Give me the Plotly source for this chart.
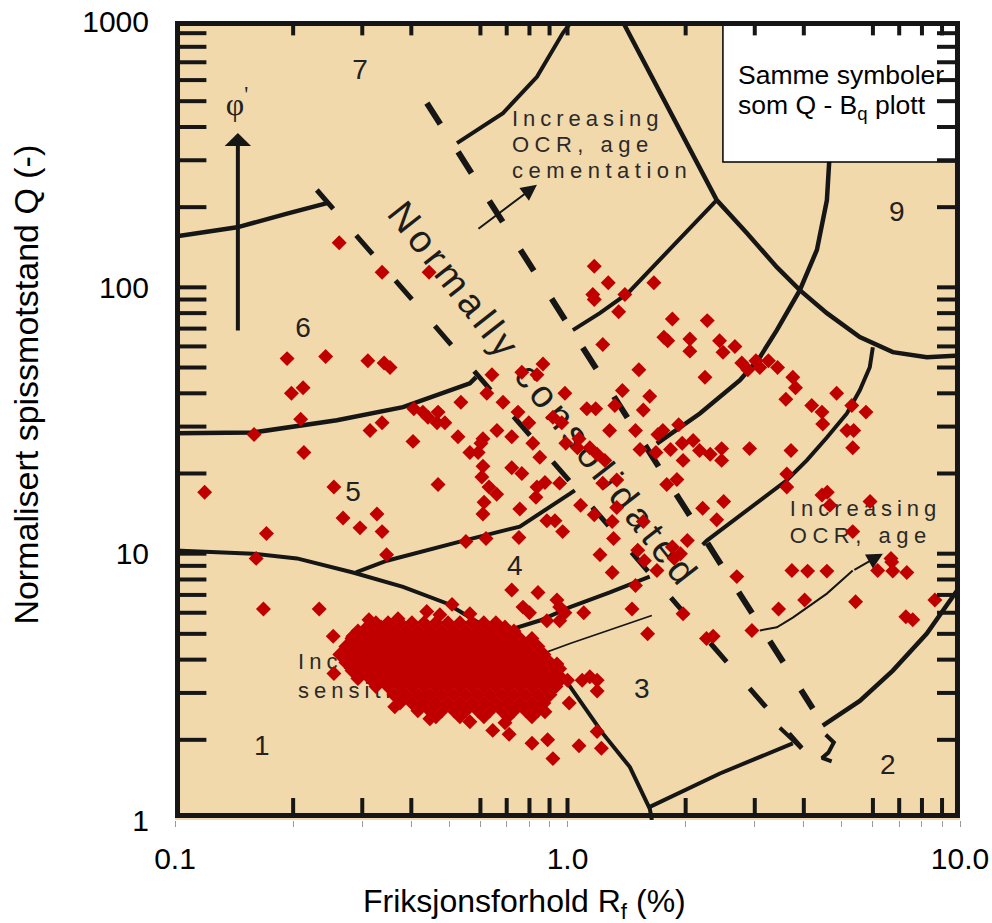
import plotly.graph_objects as go
import math

INK = "#161616"
RED = "#C00000"
BG = "#F2D9AB"
FONT = "Liberation Sans"

# ---------------- axes ----------------
x_major_vals = [0.1, 1, 10]
x_major_text = ["0.1", "1.0", "10.0"]
x_minor_vals = [0.2, 0.3, 0.4, 0.5, 0.6, 0.7, 0.8, 0.9, 2, 3, 4, 5, 6, 7, 8, 9]
y_tick_vals = [1, 10, 100, 1000]
y_tick_text = ["1", "10", "100", "1000"]
frame_x_ticks = [0.2, 0.3, 0.4, 0.6, 0.7, 0.8, 0.9, 1, 2, 3, 4, 6, 7, 8, 9]
frame_y_ticks = [2, 3, 4, 5, 6, 7, 8, 9, 10, 20, 30, 40, 50, 60, 70, 80, 90, 100,
                 200, 300, 400, 500, 600, 700, 800, 900]

# ---------------- chart boundaries (Rf %, Q) ----------------
z67_rf = [0.1, 0.144, 0.193, 0.244]
z67_q = [155, 168, 189, 207]
nc_inner_rf = [0.2298, 3.95]
nc_inner_q = [232, 1.86]
nc_outer_rf = [0.4383, 4.218]
nc_outer_q = [492, 2.62]
curl_rf = [4.55, 4.77, 4.62, 4.45, 4.71]
curl_q = [2.09, 1.955, 1.79, 1.71, 1.66]
z78_rf = [0.523, 0.685, 0.836, 0.973, 1.027]
z78_q = [348, 451, 617, 901, 1000]
z89_rf = [1.38, 1.592, 1.855, 2.174, 2.40, 2.863, 3.415, 3.908, 4.58, 5.555, 6.743, 8.23, 10]
z89_q = [1000, 672, 436, 283, 212.6, 160, 119, 97.6, 80, 65.1, 57.1, 54.6, 55.5]
z9l_rf = [4.88, 4.74, 4.65, 4.58, 4.32, 3.908, 3.415, 3.09, 2.75, 2.174, 1.689]
z9l_q = [1000, 505, 293, 212.6, 138.3, 97.6, 69.1, 54.6, 44.8, 33.6, 25.9]
z8l_rf = [2.40, 1.991, 1.64, 1.425, 1.209, 1.032]
z8l_q = [212.6, 160, 118.8, 95.1, 80.0, 69.1]
z9b_rf = [5.997, 5.89, 5.555, 5.15, 4.58, 4.07, 3.62, 3.09, 2.638, 2.265, 2.21]
z9b_q = [59.6, 50.1, 41.06, 33.6, 27.3, 22.4, 18.86, 15.84, 13.3, 11.2, 10.8]
z45_rf = [0.289, 0.3466, 0.532, 0.756, 1.015, 1.044]
z45_q = [8.5, 9.41, 11.1, 12.64, 16.8, 17.3]
z56_rf = [0.1, 0.158, 0.2585, 0.381, 0.564, 0.585]
z56_q = [28.3, 28.5, 31.7, 35.5, 43.6, 46]
z1_rf = [0.1, 0.158, 0.2045, 0.284, 0.381, 0.493, 0.598, 0.756, 0.918, 1.003, 1.231, 1.442, 1.621, 1.64]
z1_q = [10.27, 10.0, 9.6, 8.5, 7.5, 6.5, 5.47, 4.33, 3.55, 3.25, 2.11, 1.58, 1.10, 1.0]
z23_rf = [1.621, 2.445, 3.75]
z23_q = [1.12, 1.495, 1.94]
z23t_rf = [3.475, 3.95]
z23t_q = [2.22, 1.86]
z2_rf = [4.47, 5.555, 6.743, 8.23, 9.83, 10]
z2_q = [2.26, 2.80, 3.64, 5.01, 7.27, 7.6]
z34_rf = [0.653, 0.85, 1.015, 1.282, 1.62]
z34_q = [4.97, 5.61, 6.30, 7.15, 8.2]
sens_rf = [0.6846, 1.015, 1.64]
sens_q = [3.72, 4.60, 5.86]
ocr2_rf = [3.09, 3.415, 3.75, 4.58, 5.33]
ocr2_q = [5.15, 5.29, 5.75, 7.08, 8.65]

# ---------------- zone labels ----------------
zone_txt = ["7", "6", "5", "4", "3", "1", "2", "9"]
zone_rf = [0.296, 0.2118, 0.284, 0.7345, 1.547, 0.1665, 6.55, 6.9]
zone_q = [643, 69.1, 16.7, 8.85, 3.06, 1.86, 1.58, 189]

note_txt = ["Increasing", "OCR, age", "cementation", "Increasing", "OCR, age", "Increasing", "sensitivity"]
note_rf = [0.7217, 0.7217, 0.7217, 3.685, 3.685, 0.2059, 0.2059]
note_q = [424.7, 339, 271, 14.55, 11.5, 3.86, 3.0]

# ---------------- measured points (Rf %, Q) ----------------
pts_rf = [0.193, 0.242, 0.31, 0.341, 0.353, 0.198, 0.212, 0.209, 0.159, 0.213,
          0.314, 0.337, 0.406, 0.428, 0.441, 0.468, 0.465, 0.487, 0.404, 0.535,
          0.526, 0.642, 0.623, 0.685, 0.748, 0.797, 0.661, 0.721, 0.609, 0.602,
          0.564, 0.592, 0.816, 0.85, 0.765, 0.836, 0.866, 0.985, 0.918, 0.967,
          0.99, 0.609, 0.605, 0.631, 0.66, 0.721, 0.765, 0.836, 0.876, 0.831,
          0.955, 0.613, 0.609, 0.756, 0.886, 0.929, 0.972, 0.468, 0.254, 0.119,
          0.268, 0.296, 0.327, 0.337, 0.171, 0.346, 0.551, 0.62, 0.752, 0.161,
          1.27, 1.66, 1.16, 1.17, 1.40, 1.35, 1.85, 2.27, 1.76, 1.80,
          2.05, 2.05, 2.44, 2.49, 2.67, 1.23, 2.78, 2.88, 3.02, 3.09,
          3.25, 3.43, 3.75, 3.81, 1.52, 2.24, 1.38, 1.62, 1.56, 1.32,
          1.12, 1.18, 1.28, 1.49, 1.70, 1.75, 1.92, 3.60, 4.19, 4.45,
          4.47, 4.85, 5.30, 5.76, 5.15, 5.36, 5.33, 1.07, 1.06,
          1.14, 1.19, 1.245, 1.53, 1.68, 1.83, 1.96, 2.09, 2.17, 2.31,
          2.47, 2.47, 1.97, 2.91, 3.71, 1.23, 1.335, 1.79, 1.90,
          3.62, 3.62, 1.08, 1.17, 1.335, 1.30, 2.21, 2.50, 2.40, 1.56,
          1.31, 1.21, 1.51, 1.85, 2.02, 1.94, 4.45, 4.59, 4.66,
          5.9, 5.33, 6.67,
          1.57, 1.30, 1.69, 1.87, 2.70, 3.73,
          4.09, 4.58, 4.02, 3.45, 5.42, 6.17, 6.7, 6.74, 7.32, 8.63,
          7.28, 7.58, 1.49, 1.46, 1.10, 0.955, 0.985, 1.97, 1.60, 2.26,
          2.35, 2.95, 0.955, 1.0, 1.09, 1.14, 1.19, 1.19, 1.01, 1.19,
          1.07, 1.22,
          0.168, 0.233, 0.721, 0.841, 0.508, 0.438, 0.37, 0.312, 0.335, 0.284,
          0.253, 0.254, 0.645, 0.71, 0.812, 0.89, 0.918, 0.77, 0.80, 0.94,
          0.955, 0.886, 0.836, 0.886, 0.94,
          0.262, 0.337, 0.444, 1.17,
          0.305, 0.473, 0.564, 0.693, 0.363, 0.446, 0.693, 0.876, 0.564, 0.276]
pts_q = [54, 55, 53, 52, 50, 40, 42, 32, 28, 24,
         29, 31, 35, 34, 32.5, 34, 31, 31, 26.4, 37,
         27.5, 47, 40, 37, 34, 31, 29, 27.5, 27, 26,
         24, 24, 26, 23, 48, 47, 51.5, 40, 32.5, 31,
         26, 21.3, 19.4, 17.8, 16.7, 21, 20, 17.8, 18.5, 16.3,
         18.4, 15.6, 14.1, 14.7, 13.3, 13.3, 12.1, 18.2, 17.8, 17,
         13.6, 12.5, 14.1, 12.1, 11.9, 9.9, 11.1, 11.4, 11.5, 9.6,
         104, 104, 94, 90, 94, 81, 76, 75, 65, 63,
         64, 57.6, 63, 57, 60, 61, 52, 49, 53, 50,
         53, 50, 46, 42, 49, 46, 41, 39, 34.6, 36,
         35, 35, 29, 29, 28, 29, 30.5, 38, 36, 34,
         30.7, 40, 36, 34, 29, 29, 25, 27, 25,
         25, 23.6, 22.4, 24.6, 24, 24.6, 26, 26.6, 24.4, 23.6,
         24.8, 22.4, 22.4, 24.8, 24.4, 18.4, 18.9, 18.2, 19,
         19.9, 17.8, 15.2, 14, 14.9, 13.2, 14.8, 15.7, 13.4, 13.2,
         11.4, 9.9, 10.3, 10.6, 11.2, 10, 16.6, 17, 15.2,
         15.7, 12.1, 9.6,
         9.4, 8.5, 8.65, 9.6, 8.2, 8.65,
         8.6, 8.6, 6.7, 6.2, 6.6, 8.65, 9.3, 8.6, 8.5, 6.7,
         5.8, 5.65, 7.6, 6.2, 6.0, 6.3, 6.0, 5.95, 5.0, 4.8,
         4.9, 5.15, 3.7, 3.35, 3.35, 3.45, 3.35, 3.05, 2.75, 2.15,
         1.9, 1.86,
         6.2, 6.2, 7.3, 7.15, 6.45, 6.06, 5.7, 5.65, 5.3, 4.9,
         4.9, 3.55, 2.17, 2.1, 1.94, 2.0, 1.7, 6.3, 6.0, 6.7,
         5.6, 5.6, 4.3, 3.8, 3.85,
         147, 114, 114, 120,
         5.2, 5.9, 5.95, 5.3, 2.66, 2.4, 2.32, 2.55, 2.34, 4.45]

# dense cluster, read row by row (one Q per row, Rf of each point in it)
cluster_q = [5.5, 5.12, 4.8, 4.48, 4.18, 3.9, 3.64, 3.4, 3.17, 2.95, 2.75, 2.57, 2.44]
cluster_rf = [
    [0.325, 0.349, 0.374, 0.4015, 0.431, 0.462, 0.496, 0.532, 0.571, 0.612, 0.657],
    [0.2925, 0.3138, 0.3367, 0.3612, 0.3876, 0.4158, 0.4461, 0.4787, 0.5136, 0.551, 0.5912, 0.6343, 0.6806, 0.7302],
    [0.2824, 0.3029, 0.325, 0.3488, 0.3742, 0.4015, 0.4307, 0.4621, 0.4958, 0.532, 0.5708, 0.6124, 0.657, 0.705, 0.7564, 0.8116],
    [0.2726, 0.2925, 0.3138, 0.3367, 0.3612, 0.3876, 0.4158, 0.4461, 0.4787, 0.5136, 0.551, 0.5912, 0.6343, 0.6806, 0.7302, 0.7834, 0.8406],
    [0.263, 0.2824, 0.3029, 0.325, 0.3488, 0.3742, 0.4015, 0.4307, 0.4621, 0.4958, 0.532, 0.5708, 0.6124, 0.657, 0.705, 0.7564, 0.8116, 0.8707],
    [0.2726, 0.2925, 0.3138, 0.3367, 0.3612, 0.3876, 0.4158, 0.4461, 0.4787, 0.5136, 0.551, 0.5912, 0.6343, 0.6806, 0.7302, 0.7834, 0.8406, 0.9019],
    [0.2824, 0.3029, 0.325, 0.3488, 0.3742, 0.4015, 0.4307, 0.4621, 0.4958, 0.532, 0.5708, 0.6124, 0.657, 0.705, 0.7564, 0.8116, 0.8707, 0.9342],
    [0.2925, 0.3138, 0.3367, 0.3612, 0.3876, 0.4158, 0.4461, 0.4787, 0.5136, 0.551, 0.5912, 0.6343, 0.6806, 0.7302, 0.7834, 0.8406, 0.9019, 0.9677],
    [0.325, 0.3488, 0.3742, 0.4015, 0.4307, 0.4621, 0.4958, 0.532, 0.5708, 0.6124, 0.657, 0.705, 0.7564, 0.8116, 0.8707, 0.9342],
    [0.3612, 0.3876, 0.4158, 0.4461, 0.4787, 0.5136, 0.551, 0.5912, 0.6343, 0.6806, 0.7302, 0.7834, 0.8406, 0.9019],
    [0.3742, 0.4015, 0.4307, 0.4621, 0.4958, 0.532, 0.5708, 0.6124, 0.657, 0.705, 0.7564, 0.8116, 0.8707],
    [0.4158, 0.4461, 0.4787, 0.5136, 0.551, 0.5912, 0.6343, 0.6806, 0.7302, 0.7834, 0.8406],
    [0.4621, 0.532, 0.6124, 0.705, 0.8116],
]

all_rf = list(pts_rf)
all_q = list(pts_q)
for qv, row in zip(cluster_q, cluster_rf):
    all_rf.extend(row)
    all_q.extend([qv] * len(row))

fig = go.Figure()

curves = [
    (z67_rf, z67_q, 4.5, "solid"),
    (z78_rf, z78_q, 4, "solid"),
    (z89_rf, z89_q, 4.5, "solid"),
    (z9l_rf, z9l_q, 4.5, "solid"),
    (z8l_rf, z8l_q, 4, "solid"),
    (z9b_rf, z9b_q, 4, "solid"),
    (z45_rf, z45_q, 4, "solid"),
    (z56_rf, z56_q, 4.5, "solid"),
    (z1_rf, z1_q, 4, "solid"),
    (z23_rf, z23_q, 4, "solid"),
    (z23t_rf, z23t_q, 4, "solid"),
    (z2_rf, z2_q, 4.5, "solid"),
    (z34_rf, z34_q, 4, "solid"),
    (sens_rf, sens_q, 1.8, "solid"),
    (ocr2_rf, ocr2_q, 2, "solid"),
    (curl_rf, curl_q, 4, "solid"),
    (nc_inner_rf, nc_inner_q, 5, "25px,35px"),
    (nc_outer_rf, nc_outer_q, 6, "25px,33px"),
]
for cx, cy, w, d in curves:
    fig.add_trace(go.Scatter(x=cx, y=cy, mode="lines",
                             line=dict(color=INK, width=w, dash=d),
                             hoverinfo="skip", showlegend=False))

fig.add_trace(go.Scatter(x=zone_rf, y=zone_q, mode="text", text=zone_txt,
                         textposition="middle center",
                         textfont=dict(family=FONT, size=28, color="#222"),
                         hoverinfo="skip", showlegend=False))
fig.add_trace(go.Scatter(x=note_rf, y=note_q, mode="text", text=note_txt,
                         textposition="middle right",
                         textfont=dict(family=FONT, size=22, color="#2a2a2a"),
                         hoverinfo="skip", showlegend=False))
fig.add_trace(go.Scatter(x=[0.1438], y=[475], mode="text", text=["φ<sup>'</sup>"],
                         textposition="middle center",
                         textfont=dict(family="Liberation Serif", size=32, color="#222"),
                         hoverinfo="skip", showlegend=False))

# measured data
fig.add_trace(go.Scatter(x=all_rf, y=all_q, mode="markers",
                         marker=dict(symbol="diamond", size=11.5, color=RED, line=dict(width=0)),
                         showlegend=False))

shapes = []
# rotated "Normally consolidated" label (below data)
shapes.append(dict(type="line", xref="x", yref="y", x0=0.616, y0=80, x1=1.275, y1=20.4,
                   line=dict(width=0, color="rgba(0,0,0,0)"), layer="below",
                   label=dict(text="Normally consolidated", textposition="middle",
                              yanchor="middle", padding=0,
                              font=dict(family=FONT, size=38, color="#1c1c1c"))))
# legend box
shapes.append(dict(type="rect", xref="x domain", yref="y domain",
                   x0=0.698, x1=0.9987, y0=0.8235, y1=0.9987,
                   fillcolor="white", line=dict(color="black", width=1.5), layer="above"))
# frame
shapes.append(dict(type="rect", xref="x domain", yref="y domain",
                   x0=0.0032, x1=0.9968, y0=0.0056, y1=0.9969,
                   line=dict(color=INK, width=5), layer="above"))
for v in frame_y_ticks:
    shapes.append(dict(type="line", xref="x domain", yref="y", x0=0, x1=0.04, y0=v, y1=v,
                       line=dict(color=INK, width=4), layer="above"))
    shapes.append(dict(type="line", xref="x domain", yref="y", x0=0.9707, x1=1, y0=v, y1=v,
                       line=dict(color=INK, width=4), layer="above"))
for v in frame_x_ticks:
    shapes.append(dict(type="line", xref="x", yref="y domain", x0=v, x1=v, y0=0.005, y1=0.0275,
                       line=dict(color=INK, width=4), layer="above"))
    shapes.append(dict(type="line", xref="x", yref="y domain", x0=v, x1=v, y0=0.982, y1=0.997,
                       line=dict(color=INK, width=4), layer="above"))

L = math.log10
annotations = [
    # phi' arrow
    dict(x=L(0.1446), y=L(380), xref="x", yref="y", ax=0, ay=199, text="",
         showarrow=True, arrowhead=1, arrowsize=1.1, arrowwidth=4, arrowcolor=INK),
    # OCR arrows
    dict(x=L(0.836), y=L(242.6), xref="x", yref="y", ax=-60, ay=45, text="",
         showarrow=True, arrowhead=2, arrowsize=1.6, arrowwidth=2, arrowcolor=INK),
    dict(x=L(6.36), y=L(10.0), xref="x", yref="y", ax=-30, ay=17, text="",
         showarrow=True, arrowhead=2, arrowsize=1.6, arrowwidth=2, arrowcolor=INK),
    # box text
    dict(x=0.7146, y=0.9324, xref="x domain", yref="y domain", xanchor="left", yanchor="middle",
         text="Samme symboler", showarrow=False, font=dict(family=FONT, size=26.5, color="black")),
    dict(x=0.7146, y=0.8924, xref="x domain", yref="y domain", xanchor="left", yanchor="middle",
         text="som Q - B<sub>q</sub> plott", showarrow=False, font=dict(family=FONT, size=26.5, color="black")),
    # axis titles
    dict(x=0.4446, y=-0.1045, xref="x domain", yref="y domain", xanchor="center", yanchor="middle",
         text="Friksjonsforhold R<sub>f</sub> (%)", showarrow=False,
         font=dict(family=FONT, size=32, color="black")),
    dict(x=-0.191, y=0.545, xref="x domain", yref="y domain", xanchor="center", yanchor="middle",
         text="Normalisert spissmotstand Q (-)", textangle=-90, showarrow=False,
         font=dict(family=FONT, size=34, color="black")),
]

fig.update_layout(
    width=992, height=923,
    margin=dict(l=175, r=32, t=21, b=103, autoexpand=False),
    paper_bgcolor="white", plot_bgcolor=BG,
    shapes=shapes, annotations=annotations,
    showlegend=False,
    xaxis=dict(type="log", range=[-1, 1], showgrid=False, zeroline=False, showline=False,
               automargin=False, ticklabeloverflow="allow",
               tickmode="array", tickvals=x_major_vals, ticktext=x_major_text,
               ticks="outside", ticklen=6, tickwidth=1, tickcolor="#9a9a9a",
               minor=dict(tickmode="array", tickvals=x_minor_vals, ticks="outside",
                          ticklen=6, tickwidth=1, tickcolor="#9a9a9a", showgrid=False),
               ticklabelstandoff=6,
               tickfont=dict(family=FONT, size=30, color="black")),
    yaxis=dict(type="log", range=[0, 3], showgrid=False, zeroline=False, showline=False,
               automargin=False, ticklabeloverflow="allow",
               tickmode="array", tickvals=y_tick_vals, ticktext=y_tick_text,
               ticks="outside", ticklen=19, tickcolor="rgba(0,0,0,0)",
               tickfont=dict(family=FONT, size=30, color="black")),
)

post = """
document.documentElement.style.margin = '0';
document.body.style.margin = '0';
document.body.style.overflow = 'hidden';
var sp = {'Increasing': 5, 'OCR, age': 5.5, 'cementation': 5.5, 'sensitivity': 5,
          'Normally consolidated': 5};
document.querySelectorAll('svg text').forEach(function(t){
  var s = t.textContent;
  if (Object.prototype.hasOwnProperty.call(sp, s)) { t.style.letterSpacing = sp[s] + 'px'; }
});
"""
fig.write_html("out.html", post_script=post, config={"displayModeBar": False})
